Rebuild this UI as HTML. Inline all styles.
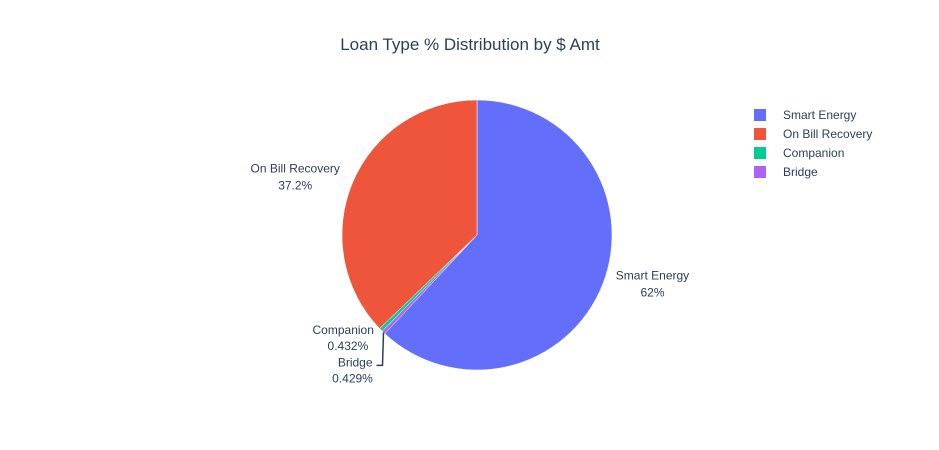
<!DOCTYPE html>
<html><head><meta charset="utf-8"><style>
body{margin:0;background:#fff;}
svg{display:block;font-family:"Liberation Sans",Arial,sans-serif;}
</style></head><body>
<svg id="chart" width="939" height="450">
<text x="470" y="50" text-anchor="middle" font-size="17" fill="#2a3f5f">Loan Type % Distribution by $ Amt</text>
<g id="slices"></g>
<g id="labels"></g>
<g id="legend"></g>
</svg>
<script>
const categories = ["Smart Energy", "On Bill Recovery", "Companion", "Bridge"];
const values = [62.0, 37.2, 0.432, 0.429];
const labelsText = ["62%", "37.2%", "0.432%", "0.429%"];
const colors = ["#636efa", "#EF553B", "#00cc96", "#ab63fa"];
const drawOrder = [0, 3, 2, 1];
const NS = "http://www.w3.org/2000/svg";
const cx = 477, cy = 235, r = 135;
const total = values.reduce((a, b) => a + b, 0);
function pt(a, rr) { return [cx + rr * Math.sin(a), cy - rr * Math.cos(a)]; }
const slicesG = document.getElementById("slices");
const labelsG = document.getElementById("labels");
const legendG = document.getElementById("legend");
const mids = {};
let a0 = 0;
drawOrder.forEach(i => {
  const a1 = a0 + values[i] / total * 2 * Math.PI;
  const p0 = pt(a0, r), p1 = pt(a1, r);
  const large = (a1 - a0) > Math.PI ? 1 : 0;
  const path = document.createElementNS(NS, "path");
  path.setAttribute("d", `M${cx},${cy}L${p0[0]},${p0[1]}A${r},${r} 0 ${large} 1 ${p1[0]},${p1[1]}Z`);
  path.setAttribute("fill", colors[i]);
  path.setAttribute("stroke", "#fff");
  path.setAttribute("stroke-width", "0.5");
  
  
  slicesG.appendChild(path);
  mids[i] = (a0 + a1) / 2;
  a0 = a1;
});
function addText(x, y, s, anchor) {
  const t = document.createElementNS(NS, "text");
  t.setAttribute("x", x); t.setAttribute("y", y);
  t.setAttribute("text-anchor", anchor);
  t.setAttribute("font-size", "12"); t.setAttribute("fill", "#2a3f5f");
  t.textContent = s;
  
  
  labelsG.appendChild(t);
}
// big slices: outside labels
[0, 1].forEach(i => {
  const p = pt(mids[i], r + 30);
  const dx = Math.sin(mids[i]) > 0 ? 22 : -30;
  const dy = Math.sin(mids[i]) > 0 ? -12 : 6;
  addText(p[0] + dx, p[1] - 4 + dy, categories[i], "middle");
  addText(p[0] + dx, p[1] + 13 + dy, labelsText[i], "middle");
});
// small slices
const pc = pt(mids[2], r);
addText(pc[0] - 7, pc[1] + 4, categories[2], "end");
addText(pc[0] - 33, pc[1] + 20, labelsText[2], "middle");
const pb = pt(mids[3], r);
addText(pb[0] - 11, pb[1] + 34, categories[3], "end");
addText(pb[0] - 31, pb[1] + 50, labelsText[3], "middle");
const ln = document.createElementNS(NS, "path");
ln.setAttribute("d", `M${pb[0]},${pb[1]}L${pb[0]-1},${pb[1]+33}L${pb[0]-7},${pb[1]+33}`);
ln.setAttribute("fill", "none"); ln.setAttribute("stroke", "#2a3f5f"); ln.setAttribute("stroke-width", "1.5");


labelsG.appendChild(ln);
// legend
categories.forEach((c, i) => {
  const y = 115 + i * 19;
  const g = document.createElementNS(NS, "g");
  
  
  const rc = document.createElementNS(NS, "rect");
  rc.setAttribute("x", 754); rc.setAttribute("y", y - 6);
  rc.setAttribute("width", 12); rc.setAttribute("height", 12);
  rc.setAttribute("fill", colors[i]);
  g.appendChild(rc);
  const t = document.createElementNS(NS, "text");
  t.setAttribute("x", 783); t.setAttribute("y", y + 4);
  t.setAttribute("font-size", "12"); t.setAttribute("fill", "#2a3f5f");
  t.textContent = c;
  g.appendChild(t);
  legendG.appendChild(g);
});
</script>
</body></html>
